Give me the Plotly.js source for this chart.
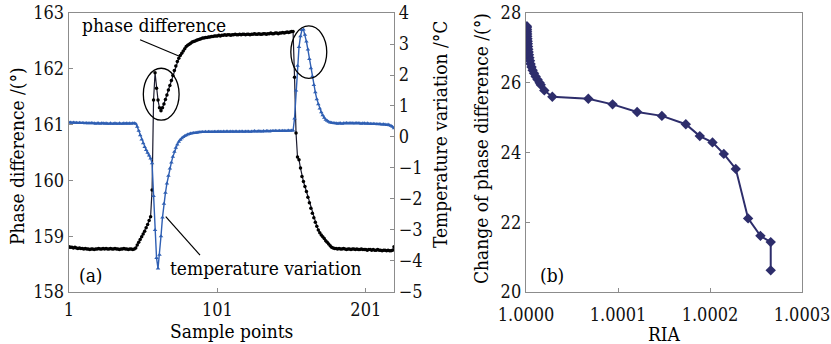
<!DOCTYPE html>
<html><head><meta charset="utf-8">
<script src="https://cdn.plot.ly/plotly-3.0.1.min.js"></script>
<style>html,body{margin:0;padding:0;background:#fff;}#chart{width:831px;height:344px;}</style>
</head><body><div id="chart"></div>
<script>
// (a) phase difference (deg) per sample point
const phaseDiff = [
158.81,158.80,158.80,158.79,158.80,158.79,158.78,158.79,158.78,158.78,
158.77,158.78,158.77,158.77,158.76,158.77,158.77,158.76,158.77,158.77,
158.78,158.77,158.77,158.78,158.77,158.78,158.77,158.77,158.78,158.77,
158.77,158.78,158.77,158.77,158.76,158.77,158.77,158.78,158.77,158.77,
158.76,158.77,158.77,158.76,158.77,
158.79,158.84,158.89,158.94,158.99,159.04,159.09,159.15,159.21,159.28,159.35,
159.83,161.44,161.93,161.65,161.44,161.30,161.25,
161.30,161.37,161.45,161.53,161.62,161.70,161.79,161.88,161.97,162.05,162.13,162.19,162.24,162.28,162.32,162.36,162.40,
162.42,162.44,162.46,162.48,162.49,162.50,162.51,162.52,162.53,162.54,162.55,162.55,162.56,162.56,162.57,162.57,162.58,162.58,162.59,162.59,
162.59,162.60,162.59,162.60,162.60,162.61,162.60,162.61,162.61,162.60,162.61,162.61,162.62,162.61,162.61,162.62,162.61,162.62,162.62,162.61,
162.62,162.62,162.61,162.62,162.62,162.63,162.62,162.62,162.63,162.62,162.62,162.63,162.63,162.62,162.63,162.63,162.64,162.63,162.63,162.64,
162.64,162.63,162.64,162.64,162.65,162.64,162.65,162.66,162.65,162.66,162.67,162.67,
161.85,160.85,160.42,
160.37,160.22,160.07,159.98,159.89,159.80,159.70,159.60,159.50,159.41,159.33,159.25,159.18,159.11,159.06,159.02,158.99,158.96,158.92,158.89,158.86,158.83,158.80,158.79,158.78,
158.78,158.77,158.78,158.77,158.77,158.78,158.77,158.76,158.77,158.77,158.76,158.77,158.77,158.76,158.77,158.76,158.76,158.77,158.76,158.76,
158.76,158.75,158.76,158.76,158.75,158.76,158.75,158.75,158.76,158.75,158.75,158.74,158.75,158.75,158.74,158.75,158.74,158.74,158.75,158.81
];
// (a) temperature variation (degC) per sample point
const tempVar = [
0.47,0.47,0.46,0.47,0.46,0.46,0.45,0.46,0.45,0.45,
0.45,0.44,0.45,0.44,0.44,0.45,0.44,0.44,0.43,0.44,
0.44,0.43,0.44,0.44,0.43,0.44,0.43,0.43,0.44,0.43,
0.43,0.44,0.43,0.43,0.44,0.43,0.43,0.44,0.43,0.44,
0.43,0.44,0.43,0.44,0.44,0.43,
0.33,0.20,0.06,-0.08,-0.20,-0.32,-0.42,-0.51,-0.60,-0.69,
-0.85,-1.90,-3.00,-3.90,-4.24,-3.80,-3.20,
-2.60,-2.15,-1.80,-1.50,-1.25,-1.02,-0.82,-0.64,-0.48,-0.35,-0.24,-0.15,-0.09,-0.04,0.00,0.03,0.06,
0.08,0.10,0.11,0.12,0.13,0.14,0.14,0.15,0.15,0.16,0.16,0.16,0.17,0.16,0.17,0.17,0.16,0.17,0.17,0.17,
0.17,0.18,0.17,0.17,0.18,0.17,0.18,0.18,0.17,0.18,0.18,0.17,0.18,0.18,0.17,0.18,0.18,0.18,0.17,0.18,
0.18,0.18,0.17,0.18,0.18,0.19,0.18,0.18,0.19,0.18,0.18,0.19,0.18,0.19,0.19,0.18,0.19,0.19,0.19,0.20,
0.19,0.19,0.20,0.19,0.20,0.20,0.19,0.20,0.21,0.20,0.21,0.21,
0.60,1.50,2.30,2.90,3.25,3.45,3.47,3.30,3.08,2.82,2.52,2.22,1.95,1.68,1.44,1.22,1.06,0.92,0.80,0.70,0.62,0.56,0.52,0.49,0.47,0.46,0.45,0.44,
0.44,0.43,0.44,0.44,0.43,0.44,0.44,0.45,0.44,0.44,0.45,0.44,0.44,0.44,0.45,0.44,0.44,0.43,0.44,0.44,
0.43,0.44,0.43,0.43,0.42,0.43,0.42,0.42,0.41,0.42,0.41,0.40,0.41,0.40,0.39,0.40,0.38,0.36,0.33,0.28
];
const sampleTicks = [1, 101, 201];
// (b) RIA vs change of phase difference
const ria = [1.0000010,1.0000010,1.0000011,1.0000012,1.0000013,1.0000014,1.0000016,1.0000018,1.0000020,1.0000022,
1.0000025,1.0000028,1.0000032,1.0000037,1.0000043,1.0000050,1.0000060,1.0000072,1.0000087,1.0000105,
1.0000125,1.0000148,1.0000160,1.0000199,1.0000286,1.0000677,1.0000941,1.0001208,1.0001477,1.0001737,
1.0001889,1.0002027,1.0002150,1.0002280,1.0002414,1.0002548,1.0002660,1.0002660];
const dPhase = [27.62,27.58,27.52,27.46,27.40,27.33,27.26,27.19,27.12,27.04,
26.96,26.88,26.80,26.72,26.63,26.54,26.45,26.36,26.27,26.18,
26.09,26.00,25.94,25.78,25.60,25.54,25.38,25.16,25.05,24.81,
24.47,24.29,23.96,23.53,22.11,21.61,21.43,20.62];
const riaTicks = [1.0000, 1.0001, 1.0002, 1.0003];
const riaTickText = ['1.0000','1.0001','1.0002','1.0003'];

const samples = phaseDiff.map((_, i) => i + 1);
const FONT = 'DejaVu Serif Condensed, DejaVu Serif, serif';
const AX = '#8c8c8c';

const traces = [
  {x: samples, y: tempVar, xaxis: 'x', yaxis: 'y2', mode: 'lines+markers', type: 'scatter',
   line: {color: '#2f5fb3', width: 1.4}, marker: {symbol: 'triangle-up', size: 4, color: '#2f5fb3'}},
  {x: samples, y: phaseDiff, xaxis: 'x', yaxis: 'y', mode: 'lines+markers', type: 'scatter',
   line: {color: '#1a1a2e', width: 1.2}, marker: {symbol: 'circle', size: 3.5, color: '#000'}},
  {x: ria, y: dPhase, xaxis: 'x2', yaxis: 'y3', mode: 'lines+markers', type: 'scatter',
   line: {color: '#2d2d6b', width: 2}, marker: {symbol: 'diamond', size: 8, color: '#2d2d6b'}}
];

const tickFont = {family: FONT, size: 18, color: '#111'};
const common = {showgrid: false, zeroline: false, showline: true, linecolor: AX, linewidth: 1.2,
  ticks: 'inside', ticklen: 4, tickcolor: AX, tickfont: tickFont};

const layout = {
  width: 831, height: 344, margin: {l: 0, r: 0, t: 0, b: 0},
  paper_bgcolor: '#fff', plot_bgcolor: '#fff', showlegend: false,
  font: {family: FONT, color: '#111'},
  xaxis: Object.assign({}, common, {domain: [0.0830, 0.4741], range: [1, 220], tickvals: sampleTicks,
    mirror: true, anchor: 'y', ticklabelstandoff: 1}),
  yaxis: Object.assign({}, common, {domain: [0.1512, 0.9622], range: [158, 163], dtick: 1, tick0: 158, anchor: 'x'}),
  yaxis2: Object.assign({}, common, {overlaying: 'y', side: 'right', range: [-5, 4], dtick: 1, tick0: -5, anchor: 'x'}),
  xaxis2: Object.assign({}, common, {domain: [0.6330, 0.9651], range: [1.0, 1.0003], tickvals: riaTicks,
    ticktext: riaTickText, mirror: true, anchor: 'y3', ticklabelstandoff: 6}),
  yaxis3: Object.assign({}, common, {domain: [0.1512, 0.9622], range: [20, 28], dtick: 2, tick0: 20,
    mirror: true, anchor: 'x2'}),
  shapes: [
    {type: 'circle', xref: 'x', yref: 'y', x0: 51.1, x1: 75.2, y0: 161.08, y1: 162.01, line: {color: '#000', width: 1.3}},
    {type: 'circle', xref: 'x', yref: 'y', x0: 150.5, x1: 174.7, y0: 161.83, y1: 162.77, line: {color: '#000', width: 1.3}},
    {type: 'line', xref: 'x', yref: 'y', x0: 48.9, y0: 162.52, x1: 75.8, y1: 162.22, line: {color: '#000', width: 1.2}},
    {type: 'line', xref: 'x', yref: 'y', x0: 66.2, y0: 159.35, x1: 89.3, y1: 158.66, line: {color: '#000', width: 1.2}}
  ],
  annotations: [
    {xref: 'x', yref: 'y', x: 8.4, y: 162.78, xanchor: 'left', yanchor: 'middle', showarrow: false,
     text: 'phase difference', font: {family: FONT, size: 19, color: '#000'}},
    {xref: 'x', yref: 'y', x: 67.8, y: 158.43, xanchor: 'left', yanchor: 'middle', showarrow: false,
     text: 'temperature variation', font: {family: FONT, size: 19, color: '#000'}},
    {xref: 'x', yref: 'y', x: 6.5, y: 158.3, xanchor: 'left', yanchor: 'middle', showarrow: false,
     text: '(a)', font: {family: FONT, size: 19, color: '#000'}},
    {xref: 'x2', yref: 'y3', x: 1.000013, y: 20.48, xanchor: 'left', yanchor: 'middle', showarrow: false,
     text: '(b)', font: {family: FONT, size: 19, color: '#000'}},
    {xref: 'paper', yref: 'paper', x: 231/831, y: 1 - 331/344, xanchor: 'center', yanchor: 'middle', showarrow: false,
     text: 'Sample points', font: {family: FONT, size: 19, color: '#000'}},
    {xref: 'paper', yref: 'paper', x: 664/831, y: 1 - 334/344, xanchor: 'center', yanchor: 'middle', showarrow: false,
     text: 'RIA', font: {family: FONT, size: 19, color: '#000'}},
    {xref: 'paper', yref: 'paper', x: 17/831, y: 1 - 156/344, xanchor: 'center', yanchor: 'middle', showarrow: false,
     textangle: -90, text: 'Phase difference /(°)', font: {family: FONT, size: 19, color: '#000'}},
    {xref: 'paper', yref: 'paper', x: 440/831, y: 1 - 135/344, xanchor: 'center', yanchor: 'middle', showarrow: false,
     textangle: -90, text: 'Temperature variation /°C', font: {family: FONT, size: 19, color: '#000'}},
    {xref: 'paper', yref: 'paper', x: 481/831, y: 1 - 149/344, xanchor: 'center', yanchor: 'middle', showarrow: false,
     textangle: -90, text: 'Change of phase difference /(°)', font: {family: FONT, size: 19, color: '#000'}}
  ]
};

Plotly.newPlot('chart', traces, layout, {staticPlot: true, displayModeBar: false});
</script>
</body></html>
